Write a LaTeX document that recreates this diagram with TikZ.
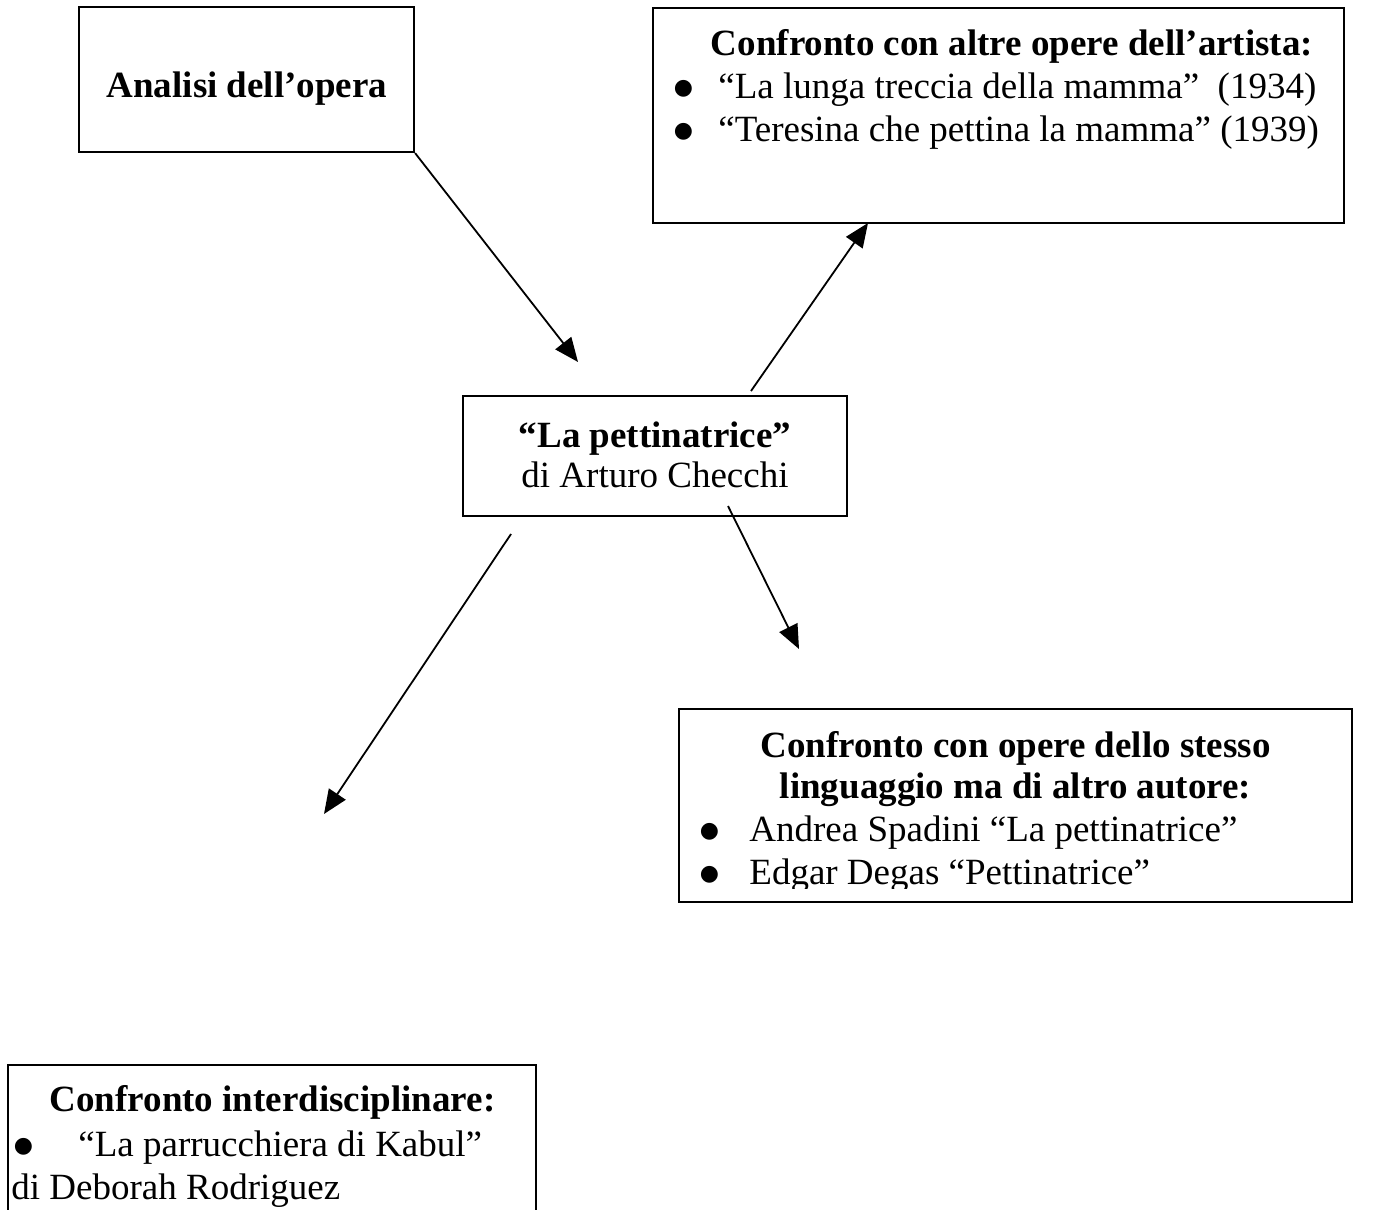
\documentclass[tikz,border=0pt]{standalone}
\usepackage{fontspec}
\setmainfont{Liberation Serif}
\newfontfamily\dejavusym{DejaVu Sans}
\usetikzlibrary{arrows.meta}
\newcommand{\bulmark}[1]{\makebox[#1][l]{\raisebox{2pt}{\dejavusym\fontsize{11}{11}\selectfont ●}}}
\begin{document}
\begin{tikzpicture}[x=0.5pt,y=-0.5pt,
  box/.style={draw, line width=1.1pt, inner sep=0pt, fill=none},
  txt/.style={inner sep=0pt, anchor=base, font=\fontsize{18.5}{21}\selectfont},
  btxt/.style={txt, font=\fontsize{18.5}{21}\selectfont\bfseries},
  ltxt/.style={txt, anchor=base west},
  arr/.style={line width=0.9pt, -{Triangle[length=12pt,width=10pt]}}]
\useasboundingbox (0,0) rectangle (1380,1209);
% boxes
\node[box, minimum width=167.5pt, minimum height=72.5pt] (analisi) at (246.5,79.5) {};
\node[box, minimum width=345.5pt, minimum height=107.5pt] (altre) at (998.5,115.5) {};
\node[box, minimum width=192pt, minimum height=60pt] (centro) at (655,456) {};
\node[box, minimum width=336.5pt, minimum height=96.5pt] (stesso) at (1015.5,805.5) {};
\node[box, minimum width=264pt, minimum height=75pt] (inter) at (272,1140) {};
% texts
\node[btxt] (t1) at (247,98) {Analisi dell’opera};
\node[btxt] (t2) at (1012,56) {Confronto con altre opere dell’artista:};
\node[ltxt] (t21) at (673.5,99) {\bulmark{22.25pt}“La lunga treccia della mamma”\ \ (1934)};
\node[ltxt] (t22) at (673.5,142) {\bulmark{22.25pt}“Teresina che pettina la mamma” (1939)};
\node[btxt] (t3) at (655,447) {“La pettinatrice”};
\node[txt] (t31) at (655,487) {di Arturo Checchi};
\node[btxt] (t4) at (1015.5,757) {Confronto con opere dello stesso};
\node[btxt] (t41) at (1015.5,798) {linguaggio ma di altro autore:};
\node[ltxt] (t42) at (699.5,841) {\bulmark{24.75pt}Andrea Spadini “La pettinatrice”};
\begin{scope}
\clip (679,700) rectangle (1352,888);
\node[ltxt] (t43) at (699.5,884) {\bulmark{24.75pt}Edgar Degas “Pettinatrice”};
\end{scope}
\node[btxt] (t5) at (272.5,1111) {Confronto interdisciplinare:};
\node[ltxt] (t51) at (13.5,1156) {\bulmark{32.25pt}“La parrucchiera di Kabul”};
\node[ltxt] (t52) at (11,1199) {di Deborah Rodriguez};
% connector ends
\coordinate (e1) at (578,362);
\coordinate (s2) at (751,391);
\coordinate (e2) at (868,223);
\coordinate (s3) at (728,506);
\coordinate (e3) at (799,649);
\coordinate (s4) at (511,534);
\coordinate (e4) at (324,814);
\draw[arr] (analisi.south east) -- (e1);
\draw[arr] (s2) -- (e2);
\draw[arr] (s3) -- (e3);
\draw[arr] (s4) -- (e4);
\end{tikzpicture}
\end{document}
